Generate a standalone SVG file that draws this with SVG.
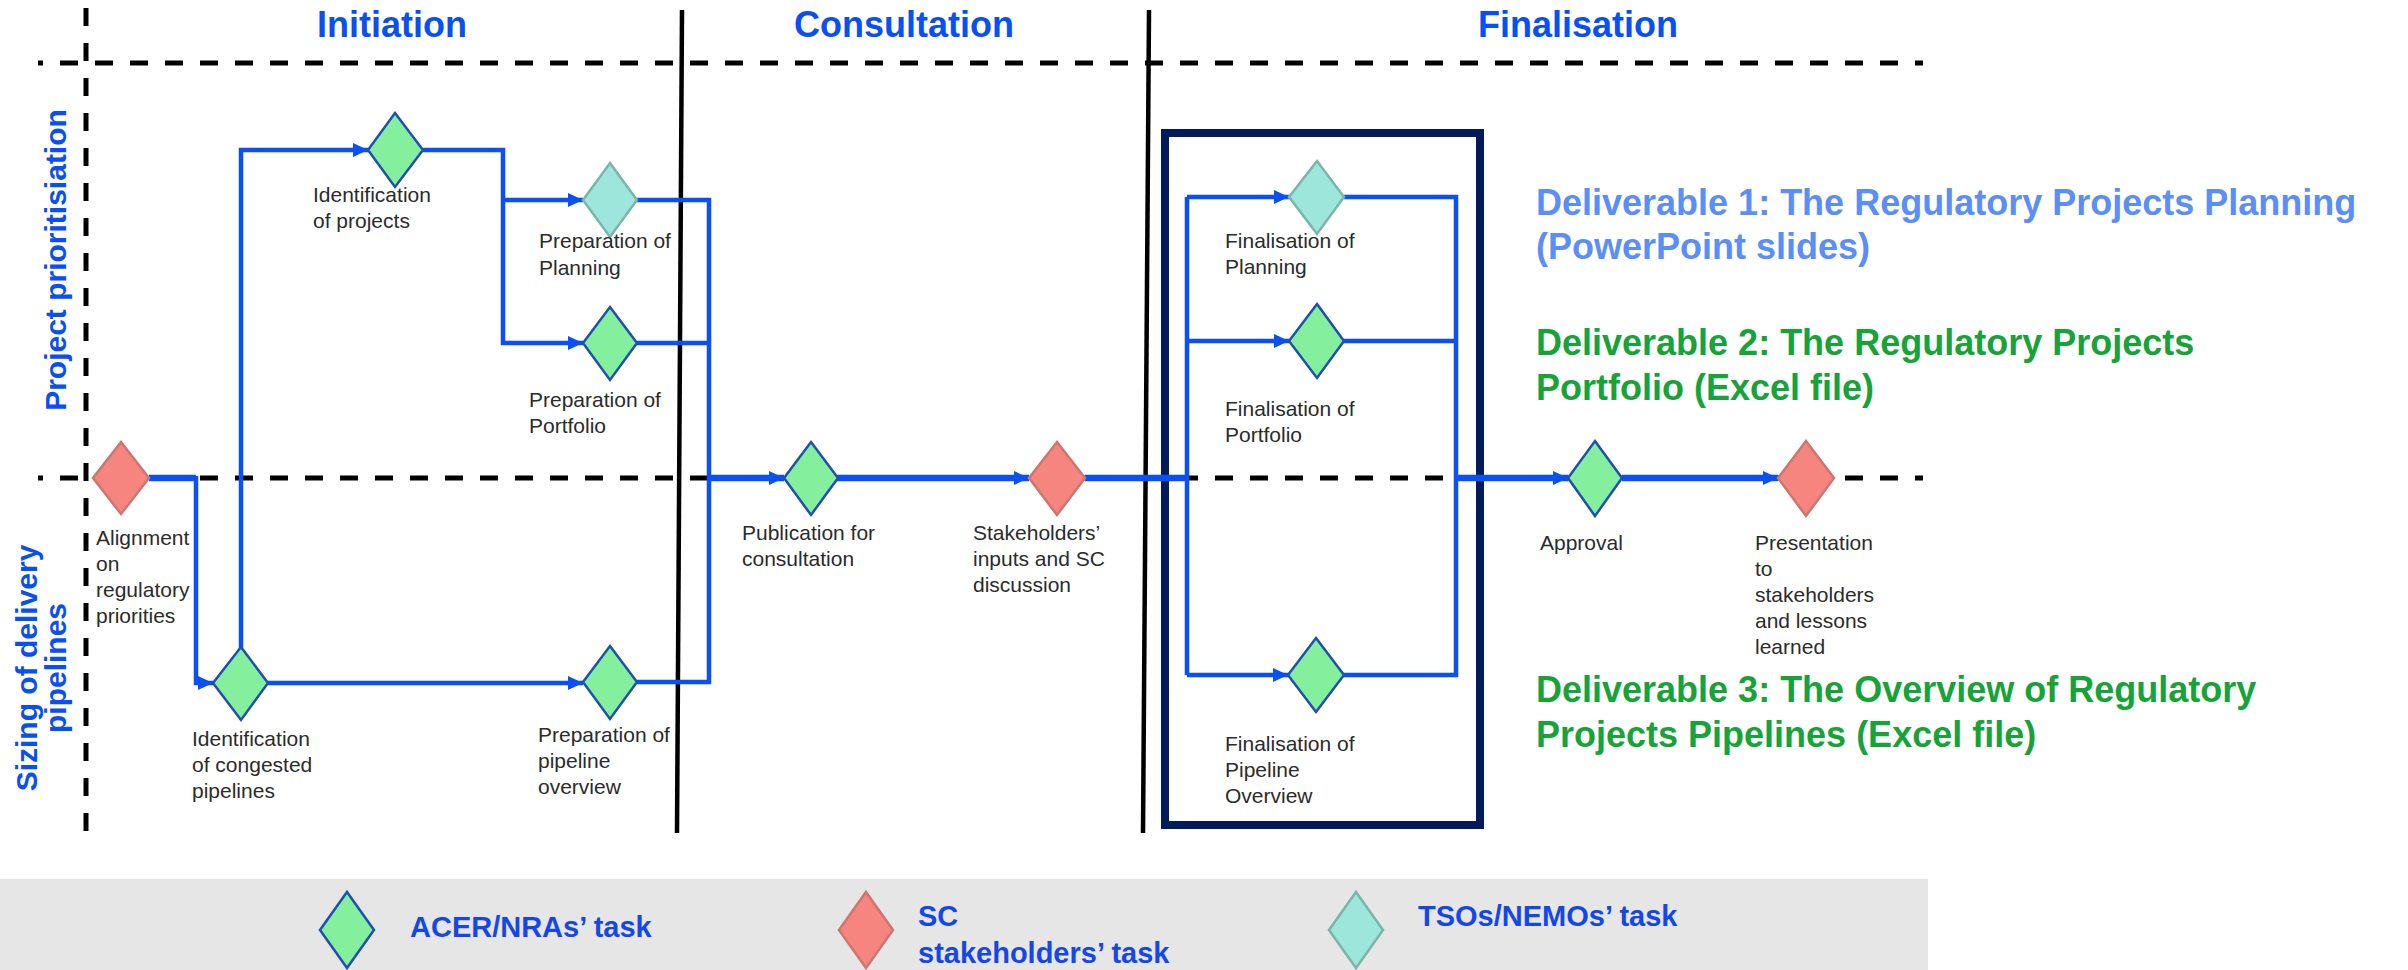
<svg xmlns="http://www.w3.org/2000/svg" width="2408" height="970" viewBox="0 0 2408 970">
<style>
.bg{fill:#ffffff}
.dash{stroke:#000;stroke-width:5;fill:none;stroke-dasharray:18 17}
.div{stroke:#000;stroke-width:4.5;fill:none}
.conn{stroke:#0a50f5;stroke-width:4.5;fill:none}
.main{stroke-width:6.5}
.g{fill:#84ef9c;stroke:#1f4fb0;stroke-width:2.5}
.t{fill:#9de6dc;stroke:#7ab5aa;stroke-width:2.5}
.r{fill:#f7857f;stroke:#c97770;stroke-width:2.5}
.lbl{font-family:"Liberation Sans",Arial,sans-serif;font-size:21px;fill:#2b2b2b}
.hd{font-family:"Liberation Sans",Arial,sans-serif;font-size:36px;font-weight:bold;fill:#0a50f0;text-anchor:middle}
.lane{font-family:"Liberation Sans",Arial,sans-serif;font-size:30px;font-weight:bold;fill:#0a50f0;text-anchor:middle}
.d1{font-family:"Liberation Sans",Arial,sans-serif;font-size:36px;font-weight:bold;fill:#5b8ef7}
.d2{font-family:"Liberation Sans",Arial,sans-serif;font-size:36px;font-weight:bold;fill:#17a337}
.leg{font-family:"Liberation Sans",Arial,sans-serif;font-size:29px;font-weight:bold;fill:#1447e6}
</style>
<defs>
<marker id="arr" markerUnits="userSpaceOnUse" markerWidth="16" markerHeight="14" refX="15" refY="7" orient="auto">
<path d="M0,0 L15,7 L0,14 z" fill="#0a50f5"/>
</marker>
</defs>
<rect class="bg" x="0" y="0" width="2408" height="970"/>

<g id="grid">
<line class="dash" x1="38" y1="63" x2="1923" y2="63" stroke-dashoffset="13"/>
<line class="dash" x1="38" y1="478" x2="1923" y2="478" stroke-dashoffset="13"/>
<line class="dash" x1="86" y1="8" x2="86" y2="833" stroke-dasharray="19 16"/>
<line class="div" x1="682" y1="10" x2="677" y2="833"/>
<line class="div" x1="1149" y1="10" x2="1143" y2="833"/>
</g>

<g id="headers">
<text class="hd" x="392" y="37">Initiation</text>
<text class="hd" x="904" y="37">Consultation</text>
<text class="hd" x="1578" y="37">Finalisation</text>
<text class="lane" x="66" y="260" transform="rotate(-90 66 260)">Project prioritisiation</text>
<text class="lane" x="37" y="668" transform="rotate(-90 37 668)">Sizing of delivery</text>
<text class="lane" x="66" y="668" transform="rotate(-90 66 668)">pipelines</text>
</g>

<rect id="finalisation-box" x="1165" y="133" width="315" height="692" fill="none" stroke="#001a5c" stroke-width="8"/>

<g id="connectors">
<path class="conn main" d="M149,478 H196"/>
<path class="conn" d="M196,476 V683 H213" marker-end="url(#arr)"/>
<path class="conn" d="M241,648 V150 H368" marker-end="url(#arr)"/>
<path class="conn" d="M423,150 H503 V343 H583" marker-end="url(#arr)"/>
<path class="conn" d="M503,200 H583" marker-end="url(#arr)"/>
<path class="conn" d="M268,683 H583" marker-end="url(#arr)"/>
<path class="conn" d="M637,200 H709 V682 H637"/>
<path class="conn" d="M637,343 H709"/>
<path class="conn main" d="M709,478 H784" marker-end="url(#arr)"/>
<path class="conn main" d="M837,478 H1029" marker-end="url(#arr)"/>
<path class="conn main" d="M1085,478 H1187"/>
<path class="conn" d="M1187,197 V675"/>
<path class="conn" d="M1187,197 H1289" marker-end="url(#arr)"/>
<path class="conn" d="M1187,341 H1289" marker-end="url(#arr)"/>
<path class="conn" d="M1187,675 H1288" marker-end="url(#arr)"/>
<path class="conn" d="M1344,197 H1456 V675 H1344"/>
<path class="conn" d="M1344,341 H1456"/>
<path class="conn main" d="M1456,478 H1568" marker-end="url(#arr)"/>
<path class="conn main" d="M1622,478 H1778" marker-end="url(#arr)"/>
</g>

<g id="n-alignment">
<polygon class="r" points="121,442 149,478 121,514 93,478"/>
<text class="lbl"><tspan x="96" y="545">Alignment</tspan><tspan x="96" y="571">on</tspan><tspan x="96" y="597">regulatory</tspan><tspan x="96" y="623">priorities</tspan></text>
</g>
<g id="n-ident-projects">
<polygon class="g" points="395,113 423,150 395,187 368,150"/>
<text class="lbl"><tspan x="313" y="202">Identification</tspan><tspan x="313" y="228">of projects</tspan></text>
</g>
<g id="n-prep-planning">
<polygon class="t" points="610,163 637,200 610,237 583,200"/>
<text class="lbl"><tspan x="539" y="248">Preparation of</tspan><tspan x="539" y="275">Planning</tspan></text>
</g>
<g id="n-prep-portfolio">
<polygon class="g" points="610,307 637,343 610,380 583,343"/>
<text class="lbl"><tspan x="529" y="407">Preparation of</tspan><tspan x="529" y="433">Portfolio</tspan></text>
</g>
<g id="n-ident-congested">
<polygon class="g" points="241,647 268,683 241,720 213,683"/>
<text class="lbl"><tspan x="192" y="746">Identification</tspan><tspan x="192" y="772">of congested</tspan><tspan x="192" y="798">pipelines</tspan></text>
</g>
<g id="n-prep-pipeline">
<polygon class="g" points="610,646 637,682 610,719 583,682"/>
<text class="lbl"><tspan x="538" y="742">Preparation of</tspan><tspan x="538" y="768">pipeline</tspan><tspan x="538" y="794">overview</tspan></text>
</g>
<g id="n-publication">
<polygon class="g" points="811,442 838,478 811,515 784,478"/>
<text class="lbl"><tspan x="742" y="540">Publication for</tspan><tspan x="742" y="566">consultation</tspan></text>
</g>
<g id="n-stakeholders">
<polygon class="r" points="1057,442 1085,478 1057,515 1029,478"/>
<text class="lbl"><tspan x="973" y="540">Stakeholders’</tspan><tspan x="973" y="566">inputs and SC</tspan><tspan x="973" y="592">discussion</tspan></text>
</g>
<g id="n-final-planning">
<polygon class="t" points="1317,161 1344,197 1317,234 1289,197"/>
<text class="lbl"><tspan x="1225" y="248">Finalisation of</tspan><tspan x="1225" y="274">Planning</tspan></text>
</g>
<g id="n-final-portfolio">
<polygon class="g" points="1317,304 1344,341 1317,378 1289,341"/>
<text class="lbl"><tspan x="1225" y="416">Finalisation of</tspan><tspan x="1225" y="442">Portfolio</tspan></text>
</g>
<g id="n-final-pipeline">
<polygon class="g" points="1316,638 1344,675 1316,712 1288,675"/>
<text class="lbl"><tspan x="1225" y="751">Finalisation of</tspan><tspan x="1225" y="777">Pipeline</tspan><tspan x="1225" y="803">Overview</tspan></text>
</g>
<g id="n-approval">
<polygon class="g" points="1595,441 1622,478 1595,516 1568,478"/>
<text class="lbl" x="1540" y="550">Approval</text>
</g>
<g id="n-presentation">
<polygon class="r" points="1806,441 1834,478 1806,516 1778,478"/>
<text class="lbl"><tspan x="1755" y="550">Presentation</tspan><tspan x="1755" y="576">to</tspan><tspan x="1755" y="602">stakeholders</tspan><tspan x="1755" y="628">and lessons</tspan><tspan x="1755" y="654">learned</tspan></text>
</g>

<g id="deliverables">
<text class="d1"><tspan x="1536" y="215">Deliverable 1: The Regulatory Projects Planning</tspan><tspan x="1536" y="259">(PowerPoint slides)</tspan></text>
<text class="d2"><tspan x="1536" y="355">Deliverable 2: The Regulatory Projects</tspan><tspan x="1536" y="400">Portfolio (Excel file)</tspan></text>
<text class="d2"><tspan x="1536" y="702">Deliverable 3: The Overview of Regulatory</tspan><tspan x="1536" y="747">Projects Pipelines (Excel file)</tspan></text>
</g>

<g id="legend">
<rect x="0" y="879" width="1928" height="91" fill="#e6e6e6"/>
<polygon class="g" points="347,892 374,930 347,968 320,930"/>
<text class="leg" x="410" y="937">ACER/NRAs’ task</text>
<polygon class="r" points="866,892 893,930 866,968 839,930"/>
<text class="leg"><tspan x="918" y="926">SC</tspan><tspan x="918" y="963">stakeholders’ task</tspan></text>
<polygon class="t" points="1356,892 1383,930 1356,968 1329,930"/>
<text class="leg" x="1418" y="926">TSOs/NEMOs’ task</text>
</g>
</svg>
